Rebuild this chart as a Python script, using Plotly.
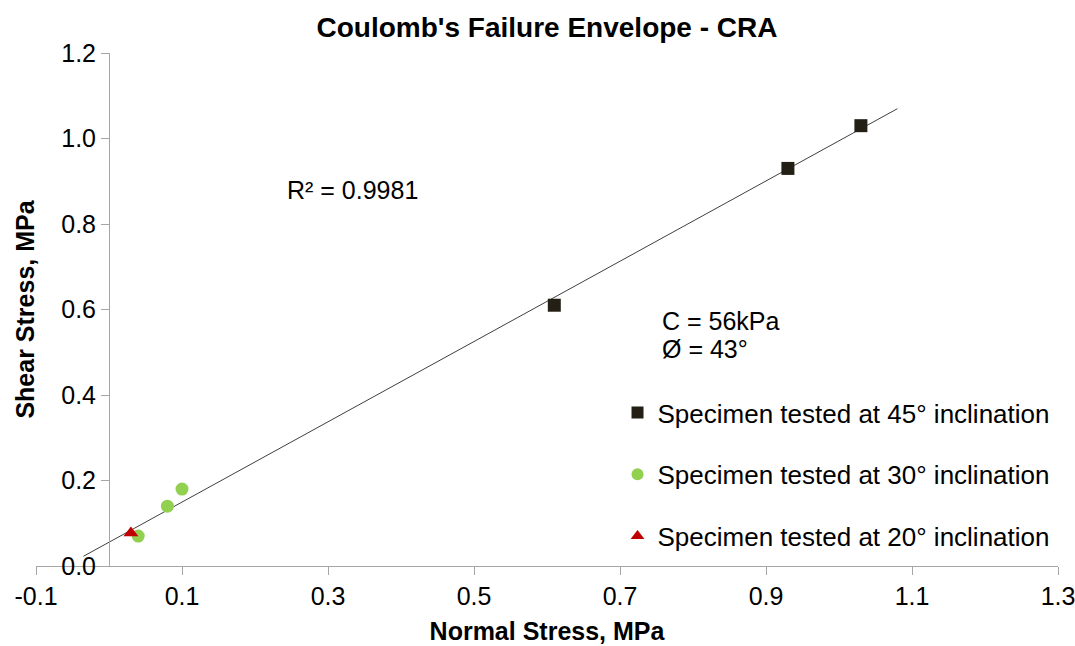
import numpy as np
import plotly.graph_objects as go

# Direct shear test results (normal stress vs shear stress, MPa)
x45 = [0.61, 0.93, 1.03]
y45 = [0.61, 0.93, 1.03]
x30 = [0.04, 0.08, 0.10]
y30 = [0.07, 0.14, 0.18]
x20 = [0.03]
y20 = [0.077]

series_names = [
    "Specimen tested at 45° inclination",
    "Specimen tested at 30° inclination",
    "Specimen tested at 20° inclination",
]

x_ticks = [-0.1, 0.1, 0.3, 0.5, 0.7, 0.9, 1.1, 1.3]
x_tick_labels = ["-0.1", "0.1", "0.3", "0.5", "0.7", "0.9", "1.1", "1.3"]
y_ticks = [0.0, 0.2, 0.4, 0.6, 0.8, 1.0, 1.2]

# Linear envelope fitted through all specimens, extended slightly both ways
all_x = np.array(x45 + x30 + x20)
all_y = np.array(y45 + y30 + y20)
slope, intercept = np.polyfit(all_x, all_y, 1)
fit_x = np.array([all_x.min() - 0.065, all_x.max() + 0.05])
fit_y = slope * fit_x + intercept

FONT = "Liberation Sans, Arial, sans-serif"
TXT = 25

fig = go.Figure()
fig.add_trace(go.Scatter(
    x=fit_x, y=fit_y, mode="lines",
    line=dict(color="#404040", width=1),
    showlegend=False, hoverinfo="skip",
))
fig.add_trace(go.Scatter(
    x=x45, y=y45, mode="markers", name=series_names[0], legendgroup="a",
    marker=dict(symbol="square", size=13, color="#231f14"),
))
fig.add_trace(go.Scatter(
    x=x30, y=y30, mode="markers", name=series_names[1], legendgroup="b",
    marker=dict(symbol="circle", size=13, color="#92d050"),
))
fig.add_trace(go.Scatter(
    x=x20, y=y20, mode="markers", name=series_names[2], legendgroup="c",
    marker=dict(symbol="triangle-up", size=13, color="#c00000"),
))

fig.add_annotation(x=0.241, y=0.88, xref="x", yref="y", text="R² = 0.9981",
                   showarrow=False, xanchor="left", yanchor="middle",
                   font=dict(size=TXT, color="#000000", family=FONT))
fig.add_annotation(x=0.755, y=0.573, xref="x", yref="y", text="C = 56kPa",
                   showarrow=False, xanchor="left", yanchor="middle",
                   font=dict(size=TXT, color="#000000", family=FONT))
fig.add_annotation(x=0.755, y=0.508, xref="x", yref="y", text="Ø = 43°",
                   showarrow=False, xanchor="left", yanchor="middle",
                   font=dict(size=TXT, color="#000000", family=FONT))

fig.update_layout(
    width=1075, height=646,
    margin=dict(l=36, r=17, t=53, b=80),
    paper_bgcolor="white", plot_bgcolor="white",
    font=dict(family=FONT, color="#000000"),
    title=dict(text="<b>Coulomb's Failure Envelope - CRA</b>",
               x=0.5, xref="paper", y=0.958, yanchor="middle",
               font=dict(size=28, family=FONT, color="#000000")),
    showlegend=True,
    legend=dict(x=0.569, y=0.345, xanchor="left", yanchor="top",
                font=dict(size=26, family=FONT, color="#000000"),
                tracegroupgap=25, itemsizing="constant",
                bgcolor="rgba(0,0,0,0)"),
    xaxis=dict(
        range=[-0.1, 1.3], tickvals=x_ticks, ticktext=x_tick_labels,
        showgrid=False, zeroline=False, showline=True,
        linecolor="#a6a6a6", linewidth=1,
        ticks="outside", ticklen=8, tickcolor="#a6a6a6",
        tickfont=dict(size=TXT, family=FONT),
        ticklabeloverflow="allow",
        automargin=False,
        title=dict(text="<b>Normal Stress, MPa</b>",
                   font=dict(size=TXT, family=FONT), standoff=13),
    ),
    yaxis=dict(
        range=[0, 1.2], tickvals=y_ticks, tickformat=".1f",
        anchor="free", position=0.1 / 1.4,
        showgrid=False, zeroline=False, showline=True,
        linecolor="#a6a6a6", linewidth=1,
        ticks="outside", ticklen=8, tickcolor="#a6a6a6",
        tickfont=dict(size=TXT, family=FONT),
        automargin=False,
        title=dict(text="<b>Shear Stress, MPa</b>",
                   font=dict(size=TXT, family=FONT), standoff=18),
    ),
)

fig.write_html("out.html")
